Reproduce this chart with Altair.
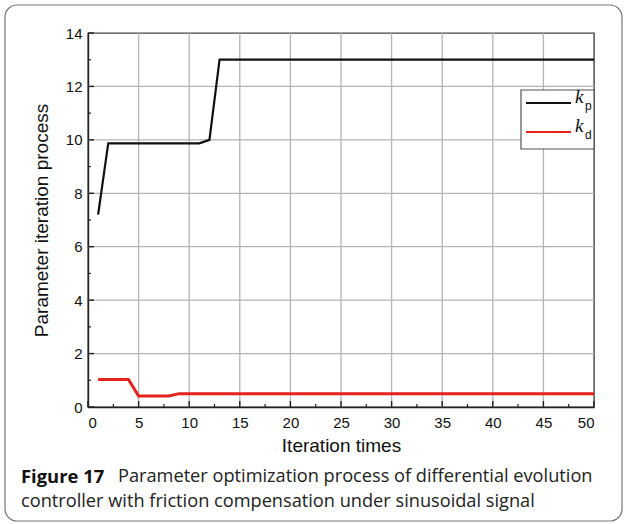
import altair as alt
import pandas as pd

# Breakpoints of the two parameter trajectories (iteration, value)
kp_iter = [1, 2, 11, 12, 13, 50]
kp_val = [7.2, 9.87, 9.87, 10.0, 13.0, 13.0]
kd_iter = [1, 4, 5, 8, 9, 50]
kd_val = [1.03, 1.03, 0.41, 0.41, 0.50, 0.50]

x_major = [0, 5, 10, 15, 20, 25, 30, 35, 40, 45, 50]
x_minor = [2.5, 7.5, 12.5, 17.5, 22.5, 27.5, 32.5, 37.5, 42.5, 47.5]
y_major = [0, 2, 4, 6, 8, 10, 12, 14]
y_minor = [1, 3, 5, 7, 9, 11, 13]

caption_bold = "Figure 17"
caption_line1 = "Parameter optimization process of differential evolution"
caption_line2 = "controller with friction compensation under sinusoidal signal"

W, H = 506, 374
LEFT, TOP = 88, 33

lines_df = pd.DataFrame(
    {
        "iter": kp_iter + kd_iter,
        "value": kp_val + kd_val,
        "param": ["kp"] * len(kp_iter) + ["kd"] * len(kd_iter),
    }
)

x_scale = alt.Scale(domain=[0, 50], nice=False)
y_scale = alt.Scale(domain=[0, 14], nice=False)
color_scale = alt.Scale(domain=["kp", "kd"], range=["#111111", "#e3231e"])

# Light grid at the major tick positions
grid_color = "#b4b4b4"
x_grid = alt.Chart(pd.DataFrame({"t": x_major[1:-1]})).mark_rule(color=grid_color, strokeWidth=1.3).encode(
    x=alt.X("t:Q", scale=x_scale), y=alt.value(0), y2=alt.value(H)
)
y_grid = alt.Chart(pd.DataFrame({"t": y_major[1:-1]})).mark_rule(color=grid_color, strokeWidth=1.3).encode(
    y=alt.Y("t:Q", scale=y_scale), x=alt.value(0), x2=alt.value(W)
)

lines = (
    alt.Chart(lines_df)
    .mark_line()
    .encode(
        x=alt.X(
            "iter:Q",
            scale=x_scale,
            axis=alt.Axis(values=x_major, title="Iteration times", grid=False,
                          ticks=False, labelPadding=8, titlePadding=6),
        ),
        y=alt.Y(
            "value:Q",
            scale=y_scale,
            axis=alt.Axis(values=y_major, title="Parameter iteration process", grid=False,
                          ticks=False, labelPadding=6, titlePadding=14),
        ),
        color=alt.Color("param:N", scale=color_scale, legend=None),
        strokeWidth=alt.StrokeWidth(
            "param:N", scale=alt.Scale(domain=["kp", "kd"], range=[2.2, 3.0]), legend=None
        ),
        detail="param:N",
    )
)

# Inward tick marks on the x and y axes
xt_major = alt.Chart(pd.DataFrame({"t": x_major})).mark_rule(color="#222", strokeWidth=1.4).encode(
    x=alt.X("t:Q", scale=x_scale), y=alt.value(H), y2=alt.value(H - 6)
)
xt_minor = alt.Chart(pd.DataFrame({"t": x_minor})).mark_rule(color="#222", strokeWidth=1.2).encode(
    x=alt.X("t:Q", scale=x_scale), y=alt.value(H), y2=alt.value(H - 3)
)
yt_major = alt.Chart(pd.DataFrame({"t": y_major})).mark_rule(color="#222", strokeWidth=1.4).encode(
    y=alt.Y("t:Q", scale=y_scale), x=alt.value(0), x2=alt.value(6)
)
yt_minor = alt.Chart(pd.DataFrame({"t": y_minor})).mark_rule(color="#222", strokeWidth=1.2).encode(
    y=alt.Y("t:Q", scale=y_scale), x=alt.value(0), x2=alt.value(3)
)

# Legend box with k_p / k_d entries
leg_x0 = 521 - LEFT
leg_box = alt.Chart(pd.DataFrame({"a": [0]})).mark_rect(
    fill="white", stroke="#555", strokeWidth=1.2
).encode(x=alt.value(leg_x0), x2=alt.value(W), y=alt.value(90 - TOP), y2=alt.value(149 - TOP))

leg_df = pd.DataFrame(
    {
        "param": ["kp", "kd"],
        "ly": [103 - TOP, 132 - TOP],
        "k": ["k", "k"],
        "sub": ["p", "d"],
    }
)
leg_lines = alt.Chart(leg_df).mark_rule(strokeWidth=1.8).encode(
    x=alt.value(526 - LEFT),
    x2=alt.value(571 - LEFT),
    y=alt.Y("ly:Q", scale=None),
    color=alt.Color("param:N", scale=color_scale, legend=None),
)
leg_k = alt.Chart(leg_df).mark_text(
    font="Liberation Serif", fontStyle="italic", fontSize=19, align="left", baseline="alphabetic", color="#111"
).encode(x=alt.value(575 - LEFT), y=alt.Y("ly:Q", scale=None), text="k:N")
leg_sub = alt.Chart(leg_df).mark_text(
    font="Liberation Sans", fontSize=12, align="left", baseline="alphabetic", dx=10, dy=7, color="#111"
).encode(x=alt.value(575 - LEFT), y=alt.Y("ly:Q", scale=None), text="sub:N")

# Card outline around figure and caption
card = alt.Chart(pd.DataFrame({"a": [0]})).mark_rect(
    fill=None, stroke="#777", strokeWidth=1.2, cornerRadius=12
).encode(x=alt.value(5 - LEFT), x2=alt.value(622 - LEFT), y=alt.value(5 - TOP), y2=alt.value(521 - TOP))

cap_df = pd.DataFrame({"a": [0]})
cap_bold = alt.Chart(cap_df).mark_text(
    font="Open Sans", fontWeight="bold", fontSize=18.4, align="left", baseline="middle", color="#111"
).encode(x=alt.value(21 - LEFT), y=alt.value(477 - TOP), text=alt.value(caption_bold))
cap_l1 = alt.Chart(cap_df).mark_text(
    font="Open Sans", fontSize=18.2, align="left", baseline="middle", color="#222"
).encode(x=alt.value(118 - LEFT), y=alt.value(477 - TOP), text=alt.value(caption_line1))
cap_l2 = alt.Chart(cap_df).mark_text(
    font="Open Sans", fontSize=18.2, align="left", baseline="middle", color="#222"
).encode(x=alt.value(21 - LEFT), y=alt.value(502 - TOP), text=alt.value(caption_line2))

chart = (
    alt.layer(
        x_grid, y_grid, lines, xt_major, xt_minor, yt_major, yt_minor,
        leg_box, leg_lines, leg_k, leg_sub,
        card, cap_bold, cap_l1, cap_l2,
    )
    .properties(
        width=W,
        height=H,
        autosize=alt.AutoSizeParams(type="none"),
        padding={"left": LEFT, "top": TOP, "right": 624 - LEFT - W, "bottom": 524 - TOP - H},
        background="white",
    )
    .configure_view(stroke="#444", strokeWidth=1.4)
    .configure_axis(
        domainColor="#222",
        domainWidth=1.4,
        labelFont="Liberation Sans",
        labelFontSize=15,
        labelColor="#111",
        titleFont="Liberation Sans",
        titleFontSize=19,
        titleFontWeight="normal",
        titleColor="#111",
    )
)

chart.save("out.html", embed_options={"renderer": "svg", "actions": False})
